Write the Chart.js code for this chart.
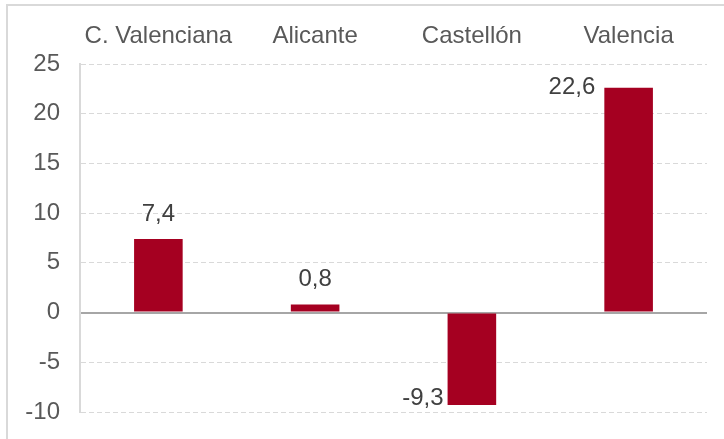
<!DOCTYPE html>
<html>
<head>
<meta charset="utf-8">
<script src="https://cdn.jsdelivr.net/npm/chart.js@4"></script>
<style>
  body { margin: 0; background: #fff; }
  #frame { position: absolute; left: 6px; top: 4px; width: 800px; height: 500px;
           border-top: 2px solid #d9d9d9; border-left: 2px solid #d9d9d9; }
  #wrap { position: absolute; left: 0; top: 0; width: 724px; height: 439px; }
</style>
</head>
<body>
<div id="frame"></div>
<div id="wrap"><canvas id="chart" width="724" height="439"></canvas></div>
<script>
// regions and change values
const regions = ["C. Valenciana", "Alicante", "Castellón", "Valencia"];
const changes = [7.4, 0.8, -9.3, 22.6];
const yTicks = [-10, -5, 0, 5, 10, 15, 20, 25];

const FONT = "Liberation Sans, Arial, sans-serif";

// value labels: above the bar, or beside it on the left
const valueLabels = {
  id: "valueLabels",
  afterDatasetsDraw(chart) {
    const ctx = chart.ctx;
    const meta = chart.getDatasetMeta(0);
    ctx.save();
    ctx.font = "24px " + FONT;
    ctx.fillStyle = "#404040";
    ctx.textBaseline = "middle";
    meta.data.forEach((bar, i) => {
      const v = changes[i];
      const txt = v.toFixed(1).replace(".", ",");
      const left = bar.x - bar.width / 2;
      if (i === 3) {
        ctx.textAlign = "right";
        ctx.fillText(txt, left - 9, bar.y);
      } else if (v < 0) {
        ctx.textAlign = "right";
        ctx.fillText(txt, left - 4, bar.y - 7);
      } else {
        ctx.textAlign = "center";
        ctx.fillText(txt, bar.x, bar.y - 25);
      }
    });
    ctx.restore();
  }
};

new Chart(document.getElementById("chart"), {
  type: "bar",
  data: {
    labels: regions,
    datasets: [{
      data: changes,
      backgroundColor: "#a50021",
      borderWidth: 0,
      categoryPercentage: 1,
      barPercentage: 0.31
    }]
  },
  options: {
    responsive: false,
    animation: false,
    layout: { padding: { left: 0, right: 17, top: 0, bottom: 27 } },
    plugins: { legend: { display: false }, tooltip: { enabled: false } },
    scales: {
      x: {
        position: "top",
        grid: { display: false, drawTicks: false },
        border: { display: false },
        ticks: { color: "#595959", font: { family: FONT, size: 24 }, padding: 13, maxRotation: 0 },
        afterFit(s) { s.height = 64; }
      },
      y: {
        min: -10,
        max: 25,
        afterBuildTicks(s) { s.ticks = yTicks.map(v => ({ value: v })); },
        grid: {
          drawTicks: false,
          color: c => (c.tick && c.tick.value === 0 ? "#a6a6a6" : "#d9d9d9"),
          lineWidth: c => (c.tick && c.tick.value === 0 ? 2 : 1)
        },
        border: {
          display: true,
          color: "#d9d9d9",
          width: 2,
          dash: c => (c.tick && c.tick.value !== 0 ? [5, 3] : [])
        },
        ticks: { color: "#595959", font: { family: FONT, size: 24 }, padding: 20 },
        afterFit(s) { s.width = 80; s.paddingTop = 0; s.paddingBottom = 0; }
      }
    }
  },
  plugins: [valueLabels]
});
</script>
</body>
</html>
